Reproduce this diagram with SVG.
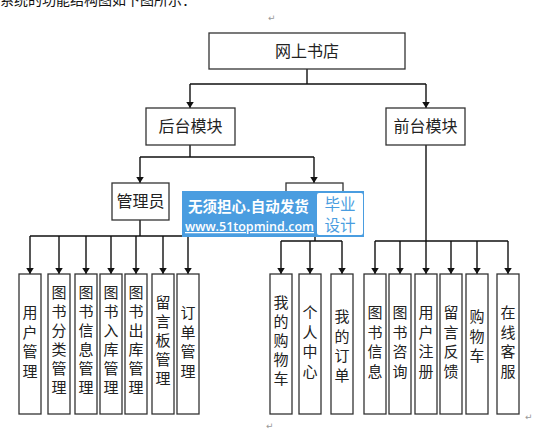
<svg xmlns="http://www.w3.org/2000/svg" width="547" height="430" viewBox="0 0 547 430">
<style>
.box{fill:#fff;stroke:#333;stroke-width:1.3}
.lbl{font-family:"Noto Sans CJK SC","Noto Sans",sans-serif;font-size:16px;fill:#222;text-anchor:middle}
.v{font-family:"Noto Sans CJK SC","Noto Sans",sans-serif;font-size:15px;fill:#222;text-anchor:middle}
.ln{stroke:#111;stroke-width:1.4;fill:none}
.ar{stroke:#111;stroke-width:1.4;fill:none;marker-end:url(#ah)}
.pm{font-family:"DejaVu Sans",sans-serif;font-size:9px;fill:#999}
</style>
<defs>
<marker id="ah" viewBox="0 0 8 10" refX="8" refY="5" markerWidth="6" markerHeight="7.5" orient="auto" markerUnits="userSpaceOnUse">
<path d="M0,0 L8,5 L0,10 z" fill="#111"/>
</marker>
</defs>
<rect width="547" height="430" fill="#fff"/>
<text x="0" y="5" font-family="Noto Sans CJK SC,sans-serif" font-size="14" fill="#111">系统的功能结构图如下图所示：</text>
<text class="pm" x="268" y="21">↵</text>
<text class="pm" x="266" y="429">↵</text>
<text class="pm" x="525" y="420">↵</text>

<g id="connectors">
<path class="ln" d="M307,69 V84 M190,84 H426"/>
<path class="ar" d="M190,84 V108"/>
<path class="ar" d="M426,84 V108"/>
<path class="ln" d="M190,145 V157 M140,157 H314"/>
<path class="ar" d="M140,157 V183"/>
<path class="ar" d="M314,157 V183"/>
<path class="ln" d="M140,220 V236 M30,236 H188"/>
<path class="ar" d="M30,236 V274"/>
<path class="ar" d="M59,236 V274"/>
<path class="ar" d="M86,236 V274"/>
<path class="ar" d="M111,236 V274"/>
<path class="ar" d="M136,236 V274"/>
<path class="ar" d="M163,236 V274"/>
<path class="ar" d="M188,236 V274"/>
<path class="ln" d="M315,220 V241 M281,241 H342"/>
<path class="ar" d="M281,241 V274"/>
<path class="ar" d="M310,241 V274"/>
<path class="ar" d="M342,241 V274"/>
<path class="ln" d="M426,145 V241 M375,241 H508"/>
<path class="ar" d="M375,241 V274"/>
<path class="ar" d="M400,241 V274"/>
<path class="ar" d="M426,241 V274"/>
<path class="ar" d="M451,241 V274"/>
<path class="ar" d="M477,241 V274"/>
<path class="ar" d="M508,241 V274"/>
</g>

<g id="root"><rect class="box" x="209" y="33" width="196" height="36"/><text class="lbl" x="307" y="57">网上书店</text></g>
<g id="backend"><rect class="box" x="146" y="108" width="89" height="37"/><text class="lbl" x="190.5" y="132">后台模块</text></g>
<g id="frontend"><rect class="box" x="386" y="108" width="79" height="37"/><text class="lbl" x="425.5" y="132">前台模块</text></g>
<g id="admin"><rect class="box" x="112" y="183" width="57" height="37"/><text class="lbl" x="140.5" y="207">管理员</text></g>
<g id="member"><rect class="box" x="286" y="183" width="57" height="37"/></g>

<g id="n1"><rect class="box" x="19" y="274" width="22" height="140"/><text class="v" x="30" y="318"><tspan x="30">用</tspan><tspan x="30" dy="19.5">户</tspan><tspan x="30" dy="19.5">管</tspan><tspan x="30" dy="19.5">理</tspan></text></g>
<g id="n2"><rect class="box" x="48" y="274" width="22" height="140"/><text class="v" x="59" y="298"><tspan x="59">图</tspan><tspan x="59" dy="19">书</tspan><tspan x="59" dy="19">分</tspan><tspan x="59" dy="19">类</tspan><tspan x="59" dy="19">管</tspan><tspan x="59" dy="19">理</tspan></text></g>
<g id="n3"><rect class="box" x="75" y="274" width="22" height="140"/><text class="v" x="86" y="298"><tspan x="86">图</tspan><tspan x="86" dy="19">书</tspan><tspan x="86" dy="19">信</tspan><tspan x="86" dy="19">息</tspan><tspan x="86" dy="19">管</tspan><tspan x="86" dy="19">理</tspan></text></g>
<g id="n4"><rect class="box" x="100" y="274" width="22" height="140"/><text class="v" x="111" y="298"><tspan x="111">图</tspan><tspan x="111" dy="19">书</tspan><tspan x="111" dy="19">入</tspan><tspan x="111" dy="19">库</tspan><tspan x="111" dy="19">管</tspan><tspan x="111" dy="19">理</tspan></text></g>
<g id="n5"><rect class="box" x="125" y="274" width="22" height="140"/><text class="v" x="136" y="298"><tspan x="136">图</tspan><tspan x="136" dy="19">书</tspan><tspan x="136" dy="19">出</tspan><tspan x="136" dy="19">库</tspan><tspan x="136" dy="19">管</tspan><tspan x="136" dy="19">理</tspan></text></g>
<g id="n6"><rect class="box" x="152" y="274" width="22" height="140"/><text class="v" x="163" y="308"><tspan x="163">留</tspan><tspan x="163" dy="19">言</tspan><tspan x="163" dy="19">板</tspan><tspan x="163" dy="19">管</tspan><tspan x="163" dy="19">理</tspan></text></g>
<g id="n7"><rect class="box" x="177" y="274" width="22" height="140"/><text class="v" x="188" y="318"><tspan x="188">订</tspan><tspan x="188" dy="19.5">单</tspan><tspan x="188" dy="19.5">管</tspan><tspan x="188" dy="19.5">理</tspan></text></g>

<g id="m1"><rect class="box" x="270" y="274" width="22" height="140"/><text class="v" x="281" y="308"><tspan x="281">我</tspan><tspan x="281" dy="19">的</tspan><tspan x="281" dy="19">购</tspan><tspan x="281" dy="19">物</tspan><tspan x="281" dy="19">车</tspan></text></g>
<g id="m2"><rect class="box" x="299" y="274" width="22" height="140"/><text class="v" x="310" y="318"><tspan x="310">个</tspan><tspan x="310" dy="19.5">人</tspan><tspan x="310" dy="19.5">中</tspan><tspan x="310" dy="19.5">心</tspan></text></g>
<g id="m3"><rect class="box" x="331" y="274" width="22" height="140"/><text class="v" x="342" y="322"><tspan x="342">我</tspan><tspan x="342" dy="19.5">的</tspan><tspan x="342" dy="19.5">订</tspan><tspan x="342" dy="19.5">单</tspan></text></g>

<g id="f1"><rect class="box" x="364" y="274" width="22" height="140"/><text class="v" x="375" y="318"><tspan x="375">图</tspan><tspan x="375" dy="19.5">书</tspan><tspan x="375" dy="19.5">信</tspan><tspan x="375" dy="19.5">息</tspan></text></g>
<g id="f2"><rect class="box" x="389" y="274" width="22" height="140"/><text class="v" x="400" y="318"><tspan x="400">图</tspan><tspan x="400" dy="19.5">书</tspan><tspan x="400" dy="19.5">咨</tspan><tspan x="400" dy="19.5">询</tspan></text></g>
<g id="f3"><rect class="box" x="415" y="274" width="22" height="140"/><text class="v" x="426" y="318"><tspan x="426">用</tspan><tspan x="426" dy="19.5">户</tspan><tspan x="426" dy="19.5">注</tspan><tspan x="426" dy="19.5">册</tspan></text></g>
<g id="f4"><rect class="box" x="440" y="274" width="22" height="140"/><text class="v" x="451" y="318"><tspan x="451">留</tspan><tspan x="451" dy="19.5">言</tspan><tspan x="451" dy="19.5">反</tspan><tspan x="451" dy="19.5">馈</tspan></text></g>
<g id="f5"><rect class="box" x="466" y="274" width="22" height="140"/><text class="v" x="477" y="322"><tspan x="477">购</tspan><tspan x="477" dy="19.5">物</tspan><tspan x="477" dy="19.5">车</tspan></text></g>
<g id="f6"><rect class="box" x="497" y="274" width="22" height="140"/><text class="v" x="508" y="318"><tspan x="508">在</tspan><tspan x="508" dy="19.5">线</tspan><tspan x="508" dy="19.5">客</tspan><tspan x="508" dy="19.5">服</tspan></text></g>

<g id="watermark">
<rect x="182" y="191" width="182" height="46" fill="#4a9de0"/>
<rect x="317" y="193" width="46" height="42" rx="2" fill="#fff"/>
<text x="188" y="212" font-family="Noto Sans CJK SC,sans-serif" font-size="14.5" font-weight="bold" fill="#fff">无须担心.自动发货</text>
<text x="185" y="231" font-family="Open Sans,Noto Sans,sans-serif" font-size="12.5" font-weight="600" fill="#fff" text-decoration="underline">www.51topmind.com</text>
<text x="340" y="210" font-family="Noto Sans CJK SC,sans-serif" font-size="15.5" fill="#4a9de0" text-anchor="middle">毕业</text>
<text x="340" y="231" font-family="Noto Sans CJK SC,sans-serif" font-size="15.5" fill="#4a9de0" text-anchor="middle">设计</text>
</g>
</svg>
